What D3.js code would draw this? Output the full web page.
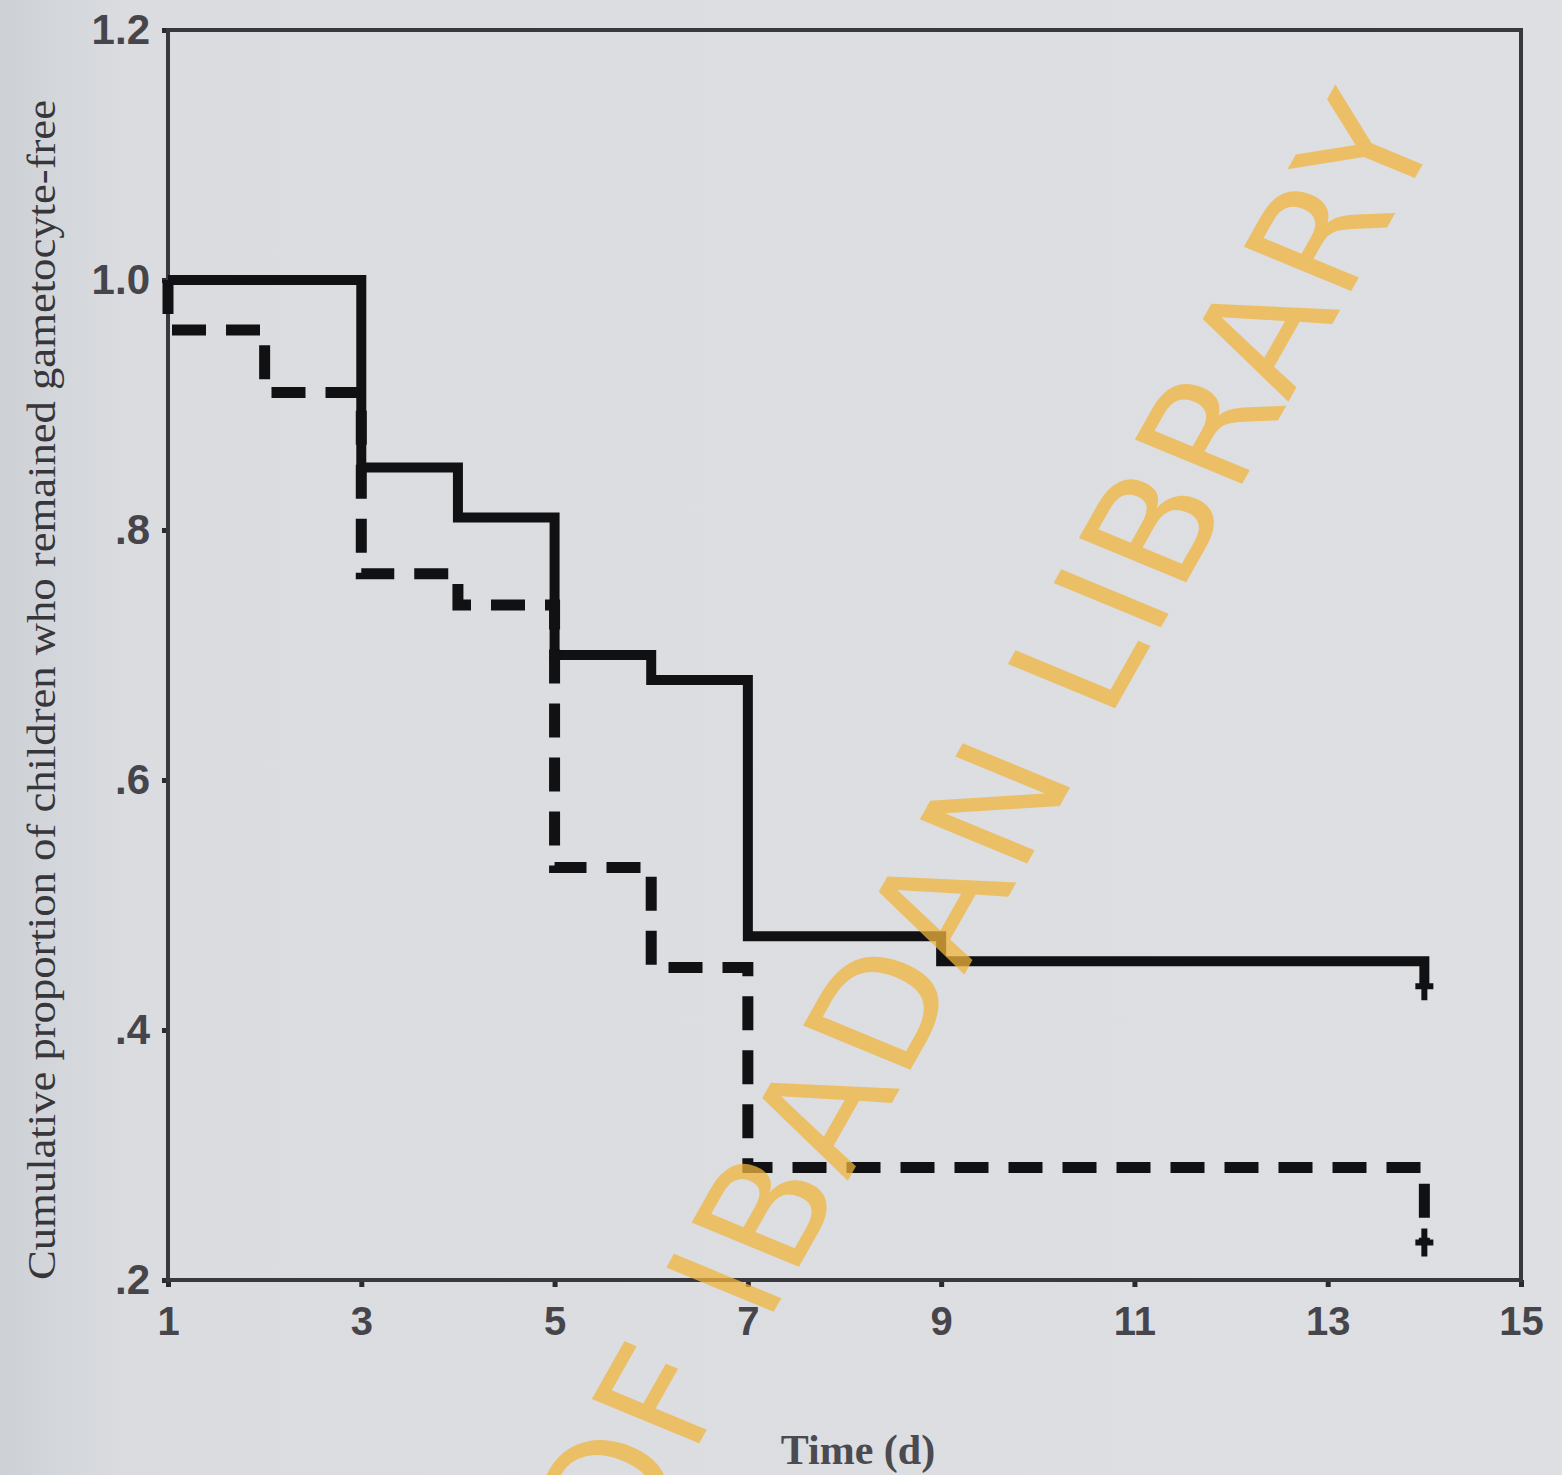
<!DOCTYPE html>
<html>
<head>
<meta charset="utf-8">
<script src="https://cdn.jsdelivr.net/npm/d3@7"></script>
<style>
  html, body { margin: 0; padding: 0; background: #dcdde2; }
  svg { display: block; }
</style>
</head>
<body>
<div id="chart"></div>
<script>
// Kaplan-Meier data
const solidTimes = [1, 3, 4, 5, 6, 7, 9, 14];
const solidSurv = [1.0, 0.85, 0.81, 0.70, 0.68, 0.475, 0.455, 0.435];
const dashedTimes = [1, 1, 2, 3, 4, 5, 6, 7, 14];
const dashedSurv = [1.0, 0.96, 0.91, 0.765, 0.74, 0.53, 0.45, 0.29, 0.23];
const censorTimes = [14, 14];
const censorSurv = [0.435, 0.23];

const xTicks = [1, 3, 5, 7, 9, 11, 13, 15];
const yTicks = [1.2, 1.0, 0.8, 0.6, 0.4, 0.2];
const yTickLabels = ['1.2', '1.0', '.8', '.6', '.4', '.2'];

const xTitle = 'Time (d)';
const yTitle = 'Cumulative proportion of children who remained gametocyte-free';
const watermark = 'UNIVERSITY OF IBADAN LIBRARY';

const width = 1562;
const height = 1475;

const svg = d3.select('#chart')
    .append('svg')
    .attr('width', width)
    .attr('height', height);

// scanned paper background
const defs = svg.append('defs');
const bg = defs.append('linearGradient').attr('id', 'paper');
bg.append('stop').attr('offset', '0%').attr('stop-color', '#cdd1d5');
bg.append('stop').attr('offset', '8%').attr('stop-color', '#dadce0');
bg.append('stop').attr('offset', '100%').attr('stop-color', '#dedfe3');
svg.append('rect')
    .attr('width', width)
    .attr('height', height)
    .attr('fill', 'url(#paper)');

const x = d3.scaleLinear().domain([1, 15]).range([168, 1521]);
const y = d3.scaleLinear().domain([0.2, 1.2]).range([1280, 30]);

// x axis
const xAxis = svg.append('g')
    .attr('transform', `translate(0,${y(0.2)})`)
    .call(d3.axisBottom(x).tickValues(xTicks).tickSize(7).tickPadding(20).tickFormat(d3.format('d')));
xAxis.select('.domain').remove();
xAxis.selectAll('.tick line').attr('stroke', '#2a2a2e').attr('stroke-width', 5);
xAxis.selectAll('.tick text')
    .attr('fill', '#45454b')
    .style('font-family', '"Liberation Sans", Arial, sans-serif')
    .style('font-size', '40px')
    .style('font-weight', 'bold');

// y axis
const yAxis = svg.append('g')
    .attr('transform', `translate(${x(1)},0)`)
    .call(d3.axisLeft(y).tickValues(yTicks).tickSize(6).tickPadding(12)
        .tickFormat((d, i) => yTickLabels[i]));
yAxis.select('.domain').remove();
yAxis.selectAll('.tick line').attr('stroke', '#2a2a2e').attr('stroke-width', 5);
yAxis.selectAll('.tick text')
    .attr('fill', '#45454b')
    .style('font-family', '"Liberation Sans", Arial, sans-serif')
    .style('font-size', '42px')
    .style('font-weight', 'bold');

// plot frame
svg.append('rect')
    .attr('x', x(1))
    .attr('y', y(1.2))
    .attr('width', x(15) - x(1))
    .attr('height', y(0.2) - y(1.2))
    .attr('fill', 'none')
    .attr('stroke', '#38383d')
    .attr('stroke-width', 4);

// survival curves
const step = d3.line()
    .x(d => x(d[0]))
    .y(d => y(d[1]))
    .curve(d3.curveStepAfter);

svg.append('path')
    .datum(d3.zip(solidTimes, solidSurv))
    .attr('d', step)
    .attr('fill', 'none')
    .attr('stroke', '#111114')
    .attr('stroke-width', 10);

svg.append('path')
    .datum(d3.zip(dashedTimes, dashedSurv))
    .attr('d', step)
    .attr('fill', 'none')
    .attr('stroke', '#111114')
    .attr('stroke-width', 11)
    .attr('stroke-dasharray', '34,20');

// censor marks
svg.append('g')
    .selectAll('path')
    .data(d3.zip(censorTimes, censorSurv))
    .enter()
    .append('path')
    .attr('d', d => {
        const cx = x(d[0]), cy = y(d[1]);
        return `M${cx},${cy - 14}V${cy + 14}M${cx - 9},${cy}H${cx + 9}`;
    })
    .attr('stroke', '#111114')
    .attr('stroke-width', 6)
    .attr('fill', 'none');

// axis titles
svg.append('text')
    .attr('transform', 'translate(55,690) rotate(-90)')
    .attr('text-anchor', 'middle')
    .attr('fill', '#36363b')
    .style('font-family', '"Liberation Serif", "Times New Roman", serif')
    .style('font-size', '40px')
    .attr('textLength', 1180)
    .attr('lengthAdjust', 'spacingAndGlyphs')
    .text(yTitle);

svg.append('text')
    .attr('x', 858)
    .attr('y', 1464)
    .attr('text-anchor', 'middle')
    .attr('fill', '#4a4a50')
    .style('font-family', '"Liberation Serif", "Times New Roman", serif')
    .style('font-size', '42px')
    .style('font-weight', 'bold')
    .text(xTitle);

// library watermark
svg.append('text')
    .attr('transform', 'translate(1445,125) rotate(-60.5) skewX(7)')
    .attr('text-anchor', 'end')
    .attr('fill', 'rgba(240,180,60,0.75)')
    .style('font-family', '"DejaVu Sans", sans-serif')
    .style('font-size', '158px')
    .style('letter-spacing', '5px')
    .text(watermark);
</script>
</body>
</html>
